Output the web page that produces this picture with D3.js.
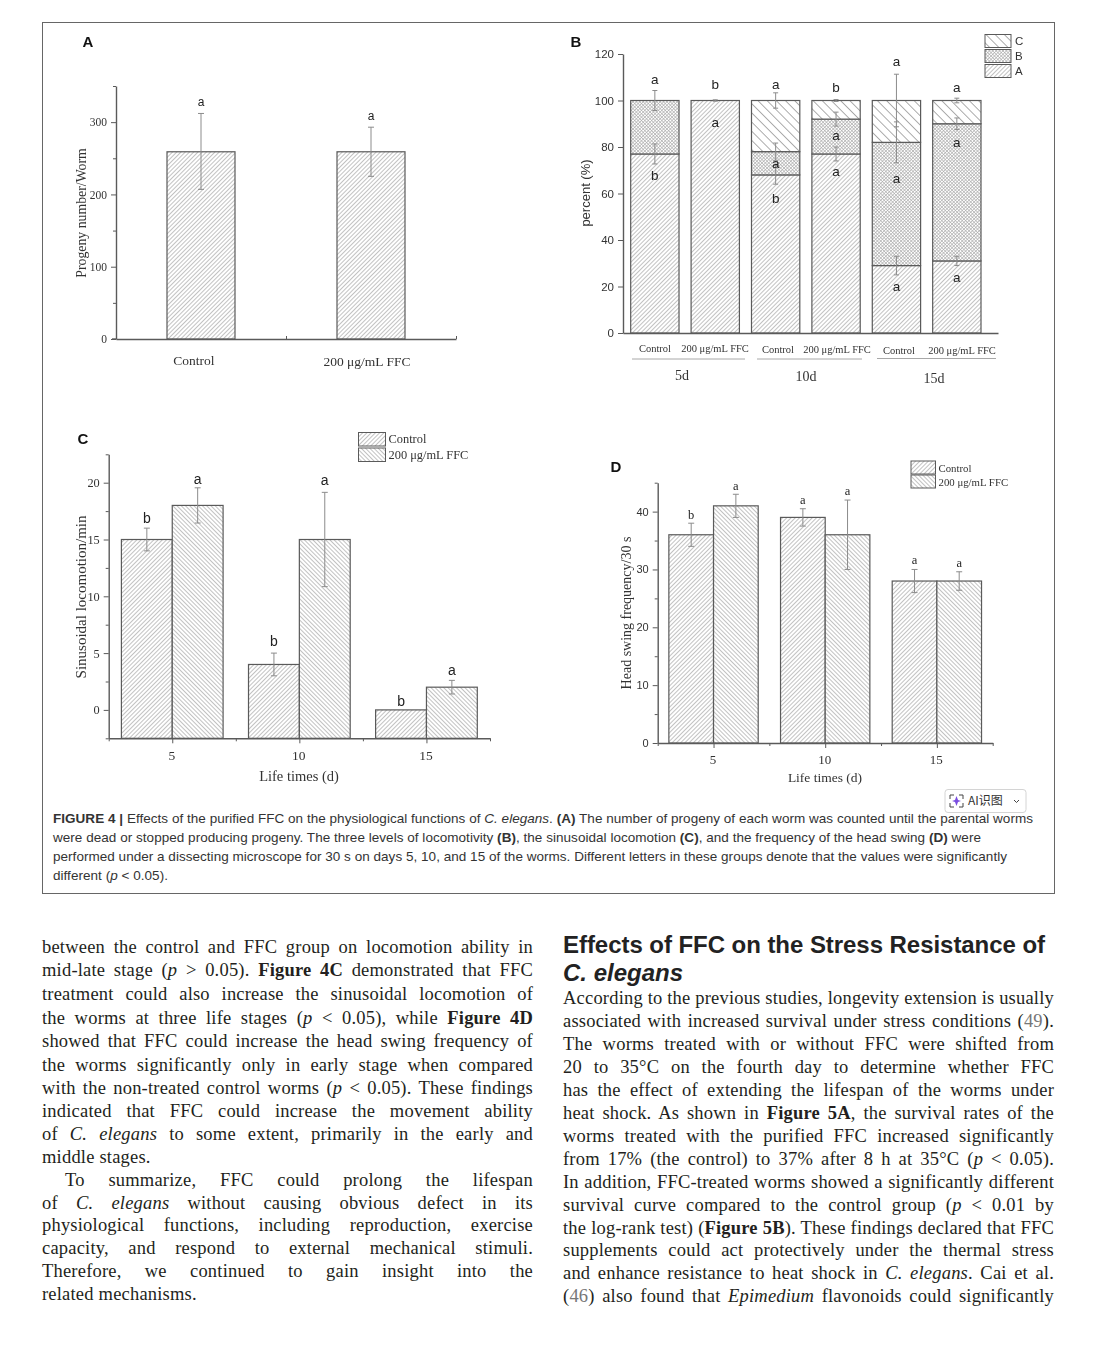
<!DOCTYPE html>
<html><head><meta charset="utf-8">
<script src="https://cdnjs.cloudflare.com/ajax/libs/d3/7.8.5/d3.min.js"></script>
<style>
html,body{margin:0;padding:0;background:#fff;width:1100px;height:1347px;overflow:hidden}
svg{position:absolute;left:0;top:0}
.ln{position:absolute;white-space:nowrap;color:#231f20}
.body{font:18.5px/23px "Liberation Serif",serif;letter-spacing:.2px}
.cap{font:13.5px/19px "Liberation Sans",sans-serif;color:#333}
.hd{font:bold 24px/28px "Liberation Sans",sans-serif;color:#222}
.ref{color:#777}
</style></head><body>
<svg id="chart" width="1100" height="1347"></svg>
<div id="txt"></div>
<script>
// ---------- data ----------
const labelsA = ["Control","200 μg/mL FFC"];
const valuesA = [259,259];
const errUpA = [53,34];
const errLowA = [52,34];
const lettersA = ["a","a"];

const barLabelsB = ["Control","200 μg/mL FFC","Control","200 μg/mL FFC","Control","200 μg/mL FFC"];
const groupLabelsB = ["5d","10d","15d"];
const segA = [77,100,68,77,29,31];
const segB = [23,0,10,15,53,59];
const segC = [0,0,22,8,18,10];
const errTopB = [4.3,0.3,3.3,0.4,11.3,1];
const errMidB = [null,null,3.7,3,8.8,2.5];
const errAB = [4.3,null,4,3,4,2];
const lettersTopB = ["a","b","a","b","a","a"];
const lettersTopYB = [109,106.8,107,105.4,116.6,105.7];
const lettersMidB = [null,null,"a","a","a","a"];
const lettersMidYB = [null,null,72.7,84.9,66.4,81.9];
const lettersLowB = ["b","a","b","a","a","a"];
const lettersLowYB = [67.8,90.6,58,69.4,20,24];
const legendB = ["C","B","A"];

const days = [5,10,15];
const legendCD = ["Control","200 μg/mL FFC"];
const ctrlC = [15,4,0];
const ffcC = [18,15,2];
const ctrlErrC = [1,1,0];
const ffcErrC = [1.55,4.15,0.6];
const ctrlLetC = ["b","b","b"];
const ffcLetC = ["a","a","a"];
const ctrlLetYC = [16.9,6.05,0.77];
const ffcLetYC = [20.35,20.2,3.5];

const ctrlD = [36,39,28];
const ffcD = [41,36,28];
const ctrlErrD = [2,1.5,2];
const ffcErrD = [2,6,1.6];
const ctrlLetD = ["b","a","a"];
const ffcLetD = ["a","a","a"];
const ctrlLetYD = [39.5,42,31.7];
const ffcLetYD = [44.5,43.6,31.2];

// ---------- page text ----------
const caption = [
 ["<b>FIGURE 4 |</b> Effects of the purified FFC on the physiological functions of <i>C. elegans</i>. <b>(A)</b> The number of progeny of each worm was counted until the parental worms",53,1033,818],
 ["were dead or stopped producing progeny. The three levels of locomotivity <b>(B)</b>, the sinusoidal locomotion <b>(C)</b>, and the frequency of the head swing <b>(D)</b> were",53,981,837],
 ["performed under a dissecting microscope for 30 s on days 5, 10, and 15 of the worms. Different letters in these groups denote that the values were significantly",53,1007,856],
 ["different (<i>p</i> &lt; 0.05).",53,168,875]
];
const leftLines = [
 ["between the control and FFC group on locomotion ability in",947],
 ["mid-late stage (<i>p</i> &gt; 0.05). <b>Figure 4C</b> demonstrated that FFC",970],
 ["treatment could also increase the sinusoidal locomotion of",994],
 ["the worms at three life stages (<i>p</i> &lt; 0.05), while <b>Figure 4D</b>",1018],
 ["showed that FFC could increase the head swing frequency of",1041],
 ["the worms significantly only in early stage when compared",1065],
 ["with the non-treated control worms (<i>p</i> &lt; 0.05). These findings",1088],
 ["indicated that FFC could increase the movement ability",1111],
 ["of <i>C. elegans</i> to some extent, primarily in the early and",1134],
 ["middle stages.",1157,"last"],
 ["To summarize, FFC could prolong the lifespan",1180,"indent"],
 ["of <i>C. elegans</i> without causing obvious defect in its",1203],
 ["physiological functions, including reproduction, exercise",1225],
 ["capacity, and respond to external mechanical stimuli.",1248],
 ["Therefore, we continued to gain insight into the",1271],
 ["related mechanisms.",1294,"last"]
];
const rightLines = [
 ["According to the previous studies, longevity extension is usually",998],
 ["associated with increased survival under stress conditions (<span class=ref>49</span>).",1021],
 ["The worms treated with or without FFC were shifted from",1044],
 ["20 to 35°C on the fourth day to determine whether FFC",1067],
 ["has the effect of extending the lifespan of the worms under",1090],
 ["heat shock. As shown in <b>Figure 5A</b>, the survival rates of the",1113],
 ["worms treated with the purified FFC increased significantly",1136],
 ["from 17% (the control) to 37% after 8 h at 35°C (<i>p</i> &lt; 0.05).",1159],
 ["In addition, FFC-treated worms showed a significantly different",1182],
 ["survival curve compared to the control group (<i>p</i> &lt; 0.01 by",1205],
 ["the log-rank test) (<b>Figure 5B</b>). These findings declared that FFC",1228],
 ["supplements could act protectively under the thermal stress",1250],
 ["and enhance resistance to heat shock in <i>C. elegans</i>. Cai et al.",1273],
 ["(<span class=ref>46</span>) also found that <i>Epimedium</i> flavonoids could significantly",1296]
];
const headLines = [["Effects of FFC on the Stress Resistance of",563,1045,945],["<i>C. elegans</i>",563,683,973]];

// ---------- drawing ----------
const svg = d3.select("#chart");
const defs = svg.append("defs");
const INK = "#5a5a5a", SERIF = '"Liberation Serif",serif', SANS = '"Liberation Sans",sans-serif';
function hatch(id,s,angle,w,col,cross){
  const p = defs.append("pattern").attr("id",id).attr("patternUnits","userSpaceOnUse")
    .attr("width",s).attr("height",s).attr("patternTransform",`rotate(${angle})`);
  p.append("rect").attr("width",s).attr("height",s).attr("fill","#fff");
  p.append("line").attr("x1",s/2).attr("x2",s/2).attr("y1",0).attr("y2",s).attr("stroke",col).attr("stroke-width",w);
  if(cross) p.append("line").attr("y1",s/2).attr("y2",s/2).attr("x1",0).attr("x2",s).attr("stroke",col).attr("stroke-width",w);
}
hatch("fw",3,45,.75,"#adadad");
hatch("bk",3,-45,.75,"#adadad");
hatch("xx",2.4,45,.6,"#a8a8a8",true);
hatch("wide",6.5,-45,.8,"#989898");

svg.append("rect").attr("x",42.5).attr("y",22.5).attr("width",1012).attr("height",871)
  .attr("fill","none").attr("stroke","#666").attr("stroke-width",1);

const plots = svg.append("g").style("filter","blur(0.35px)");

function txt(g,x,y,s,font,size,opts={}){
  const t = g.append("text").attr("x",x).attr("y",y).attr("font-family",font).attr("font-size",size)
    .attr("fill",opts.fill||"#333").attr("text-anchor",opts.anchor||"middle").attr("dominant-baseline","central")
    .attr("font-weight",opts.weight||"normal").text(s);
  if(opts.rot) t.attr("transform",`rotate(-90 ${x} ${y})`);
  return t;
}
function styleAxis(g,font,size){
  g.select(".domain").attr("stroke",INK).attr("stroke-width",1.4);
  g.selectAll(".tick line").attr("stroke",INK).attr("stroke-width",1);
  g.selectAll(".tick text").attr("font-family",font).attr("font-size",size).attr("fill","#333");
}
function yAxes(g,y,x0,major,minor,font,size){
  const a = g.append("g").attr("transform",`translate(${x0},0)`)
    .call(d3.axisLeft(y).tickValues(major).tickSize(5).tickPadding(4).tickSizeOuter(0));
  styleAxis(a,font,size);
  const m = g.append("g").attr("transform",`translate(${x0},0)`)
    .call(d3.axisLeft(y).tickValues(minor).tickSize(3).tickFormat("").tickSizeOuter(0));
  styleAxis(m,font,size); m.select(".domain").remove();
}
function errBar(g,x,yTop,yLow,cap=3){
  const e = g.append("g").attr("stroke","#8c8c8c").attr("stroke-width",1).attr("fill","none");
  e.append("line").attr("x1",x).attr("x2",x).attr("y1",yTop).attr("y2",yLow);
  e.append("line").attr("x1",x-cap).attr("x2",x+cap).attr("y1",yTop).attr("y2",yTop);
  e.append("line").attr("x1",x-cap).attr("x2",x+cap).attr("y1",yLow).attr("y2",yLow);
}
function bar(g,x0,x1,y0,y1,fill,sw=1.2){
  g.append("rect").attr("x",x0).attr("width",x1-x0).attr("y",y1).attr("height",y0-y1)
    .attr("fill",`url(#${fill})`).attr("stroke",INK).attr("stroke-width",sw);
}

// Panel A
(function(){
  const g = plots.append("g");
  txt(g,88,41,"A",SANS,15,{weight:"bold",fill:"#111"});
  const x = d3.scaleLinear().domain([0,2]).range([116,456]);
  const y = d3.scaleLinear().domain([0,350]).range([339,86]);
  valuesA.forEach((v,i)=>{
    const c=i+.5;
    bar(g,x(c-.2),x(c+.2),y(0),y(v),"fw");
    errBar(g,x(c),y(v+errUpA[i]),y(v-errLowA[i]));
    txt(g,x(c),y(v+errUpA[i])-11.5,lettersA[i],SANS,12,{fill:"#222"});
  });
  yAxes(g,y,116,[0,100,200,300],[50,150,250,350],SERIF,11.5);
  const ax=g.append("g").attr("transform","translate(0,339)")
    .call(d3.axisBottom(x).tickValues([1,2]).tickSize(-3).tickFormat("").tickSizeOuter(0));
  styleAxis(ax,SERIF,12);
  g.append("line").attr("x1",112).attr("x2",116).attr("y1",339).attr("y2",339).attr("stroke",INK).attr("stroke-width",1.4);
  txt(g,194,360,labelsA[0],SERIF,13.5);
  txt(g,367,361,labelsA[1],SERIF,13.5);
  txt(g,81,213,"Progeny number/Worm",SERIF,13.8,{rot:true});
})();

// Panel B
(function(){
  const g = plots.append("g");
  txt(g,576,41,"B",SANS,15,{weight:"bold",fill:"#111"});
  const x = d3.scaleBand().domain(d3.range(6)).range([630.7,981]).paddingInner(.2).paddingOuter(0);
  const centers = d3.range(6).map(i=>x(i)+x.bandwidth()/2);
  const y = d3.scaleLinear().domain([0,120]).range([333,54]);
  segA.forEach((a,i)=>{
    const x0=x(i), x1=x(i)+x.bandwidth(), b=a+segB[i], c=b+segC[i], m=centers[i];
    bar(g,x0,x1,y(0),y(a),"fw");
    if(segB[i]) bar(g,x0,x1,y(a),y(b),"xx");
    if(segC[i]) bar(g,x0,x1,y(b),y(c),"wide");
    errBar(g,m,y(100+errTopB[i]),y(100-errTopB[i]),2.5);
    if(errMidB[i]!=null) errBar(g,m,y(b+errMidB[i]),y(b-errMidB[i]),2.5);
    if(errAB[i]!=null) errBar(g,m,y(a+errAB[i]),y(a-errAB[i]),2.5);
    txt(g,m,y(lettersTopYB[i]),lettersTopB[i],SANS,13.5,{fill:"#222"});
    if(lettersMidB[i]) txt(g,m,y(lettersMidYB[i]),lettersMidB[i],SANS,13.5,{fill:"#222"});
    txt(g,m,y(lettersLowYB[i]),lettersLowB[i],SANS,13.5,{fill:"#222"});
  });
  yAxes(g,y,623,d3.range(0,121,20),[],SANS,11.5);
  const ax=g.append("g").attr("transform","translate(0,333)")
    .call(d3.axisBottom(d3.scaleLinear().domain([0,1]).range([623,998])).tickValues([]).tickSizeOuter(0));
  styleAxis(ax,SANS,12);
  const lx=[655,715,778,837,899,962], ly=[348,348,349,349,350,350];
  barLabelsB.forEach((s,i)=>txt(g,lx[i],ly[i],s,SERIF,10.5));
  [[632,745,359],[757,862,359],[877,996,358.5]].forEach(d=>
    g.append("line").attr("x1",d[0]).attr("x2",d[1]).attr("y1",d[2]).attr("y2",d[2]).attr("stroke","#a8a8a8").attr("stroke-width",1));
  const gx=[682,806,934], gy=[375,376,378];
  groupLabelsB.forEach((s,i)=>txt(g,gx[i],gy[i],s,SERIF,14));
  txt(g,585,193,"percent (%)",SANS,13,{rot:true});
  const fills=["wide","xx","fw"], ys=[34.5,49.5,64.5];
  legendB.forEach((s,i)=>{
    g.append("rect").attr("x",985).attr("y",ys[i]).attr("width",26).attr("height",13)
      .attr("fill",`url(#${fills[i]})`).attr("stroke",INK).attr("stroke-width",1);
    txt(g,1015,ys[i]+6,s,SANS,11.5,{anchor:"start"});
  });
})();

// Panels C and D share a grouped layout
function grouped(o){
  const g = plots.append("g");
  txt(g,o.tagX,o.tagY,o.tag,SANS,15,{weight:"bold",fill:"#111"});
  const x = d3.scaleLinear().domain([2.5,17.5]).range(o.xr);
  const y = d3.scaleLinear().domain(o.yd).range(o.yr);
  const base = y(o.yd[0]);
  days.forEach((d,i)=>{
    bar(g,x(d-2),x(d),base,y(o.ctrl[i]),"fw");
    bar(g,x(d),x(d+2),base,y(o.ffc[i]),"bk");
    if(o.cErr[i]) errBar(g,x(d-1),y(o.ctrl[i]+o.cErr[i]),y(o.ctrl[i]-o.cErr[i]));
    errBar(g,x(d+1),y(o.ffc[i]+o.fErr[i]),y(o.ffc[i]-o.fErr[i]));
    txt(g,x(d-1),y(o.cLetY[i]),o.cLet[i],o.letFont,o.letSize,{fill:"#222"});
    txt(g,x(d+1),y(o.fLetY[i]),o.fLet[i],o.letFont,o.letSize,{fill:"#222"});
  });
  yAxes(g,y,o.xr[0],o.major,o.minor,o.tickFont,o.tickSize);
  const ax=g.append("g").attr("transform",`translate(0,${base})`)
    .call(d3.axisBottom(x).tickValues(days).tickSize(5).tickPadding(7).tickFormat(d3.format("d")).tickSizeOuter(0));
  styleAxis(ax,SERIF,o.xtSize);
  ax.selectAll(".tick text").attr("dx",-1);
  const mn=g.append("g").attr("transform",`translate(0,${base})`)
    .call(d3.axisBottom(x).tickValues([2.5,7.5,12.5,17.5]).tickSize(3).tickFormat("").tickSizeOuter(0));
  styleAxis(mn,SERIF,12); mn.select(".domain").remove();
  txt(g,o.xLabel[0],o.xLabel[1],"Life times (d)",SERIF,o.xlSize);
  txt(g,o.yLabel[0],o.yLabel[1],o.yTitle,SERIF,o.ylSize,{rot:true});
  ["fw","bk"].forEach((f,i)=>{
    g.append("rect").attr("x",o.leg[0]).attr("y",o.leg[1]+i*o.leg[4]).attr("width",o.leg[2]).attr("height",o.leg[3])
      .attr("fill",`url(#${f})`).attr("stroke",INK).attr("stroke-width",1);
    txt(g,o.leg[0]+o.leg[2]+3,o.leg[1]+i*o.leg[4]+o.leg[3]/2,legendCD[i],SERIF,o.legSize,{anchor:"start"});
  });
}
grouped({tag:"C",tagX:83,tagY:438.5,xr:[108.7,490],yd:[-2.5,22.5],yr:[738.3,454.3],
  ctrl:ctrlC,ffc:ffcC,cErr:ctrlErrC,fErr:ffcErrC,cLet:ctrlLetC,fLet:ffcLetC,cLetY:ctrlLetYC,fLetY:ffcLetYC,
  letFont:SANS,letSize:14,major:[0,5,10,15,20],minor:[-2.5,2.5,7.5,12.5,17.5,22.5],tickFont:SERIF,tickSize:12.3,xtSize:13.5,
  xLabel:[299,776],xlSize:14.5,yLabel:[81,597],ylSize:15,yTitle:"Sinusoidal locomotion/min",
  leg:[358.5,432.5,27,13.5,15.5],legSize:12.4});
grouped({tag:"D",tagX:616,tagY:466,xr:[657.7,992.7],yd:[0,45],yr:[743,482.7],
  ctrl:ctrlD,ffc:ffcD,cErr:ctrlErrD,fErr:ffcErrD,cLet:ctrlLetD,fLet:ffcLetD,cLetY:ctrlLetYD,fLetY:ffcLetYD,
  letFont:SERIF,letSize:12.5,major:[0,10,20,30,40],minor:[5,15,25,35,45],tickFont:SANS,tickSize:11,xtSize:13,
  xLabel:[825,777],xlSize:13.5,yLabel:[626,613],ylSize:14,yTitle:"Head swing frequency/30 s",
  leg:[911,461,24.5,13,14],legSize:10.8});

// AI button
const btn = svg.append("g");
btn.append("rect").attr("x",945).attr("y",789.5).attr("width",81).attr("height",23).attr("rx",3)
  .attr("fill","#fff").attr("stroke","#d4d4d4");
btn.append("path").attr("d","M950 799v-4h4M959 795h4v4M963 803v4h-4M954 807h-4v-4").attr("fill","none").attr("stroke","#444");
btn.append("path").attr("d","M956.5 796l1.5 4 3 1-3 1-1.5 4-1.5-4-3-1 3-1z").attr("fill","#7a4de0");
btn.append("text").attr("x",968).attr("y",805).attr("font-family",'"Noto Sans CJK SC",sans-serif').attr("font-size",12).attr("fill","#333").text("AI识图");
btn.append("path").attr("d","M1014 800l2.5 2.5 2.5-2.5").attr("fill","none").attr("stroke","#444");

// Text overlay
const box = d3.select("#txt");
function fit(html,cls,x0,x1,yc,lh){
  const d = box.append("div").attr("class","ln "+cls).style("left",x0+"px").style("top",(yc-lh/2)+"px").html(html);
  const n = d.node(), w = n.getBoundingClientRect().width, chars = n.textContent.length;
  d.style("letter-spacing",((x1-x0-w)/chars)+"px");
}
caption.forEach(c=>fit(c[0],"cap",c[1],c[2],c[3],19));
headLines.forEach(c=>fit(c[0],"hd",c[1],c[2],c[3],28));
function bodyLines(lines,x0,x1){
  lines.forEach(l=>{
    const ind = l[2]==="indent"?23:0;
    const d = box.append("div").attr("class","ln body")
      .style("left",(x0+ind)+"px").style("top",(l[1]-11.5)+"px").html(l[0]);
    if(l[2]==="last") return;
    const n = d.node(), w = n.getBoundingClientRect().width;
    const gaps = n.textContent.split(" ").length-1;
    d.style("word-spacing",((x1-x0-ind-w)/gaps)+"px");
  });
}
bodyLines(leftLines,42,533);
bodyLines(rightLines,563,1054);
</script>
</body></html>
